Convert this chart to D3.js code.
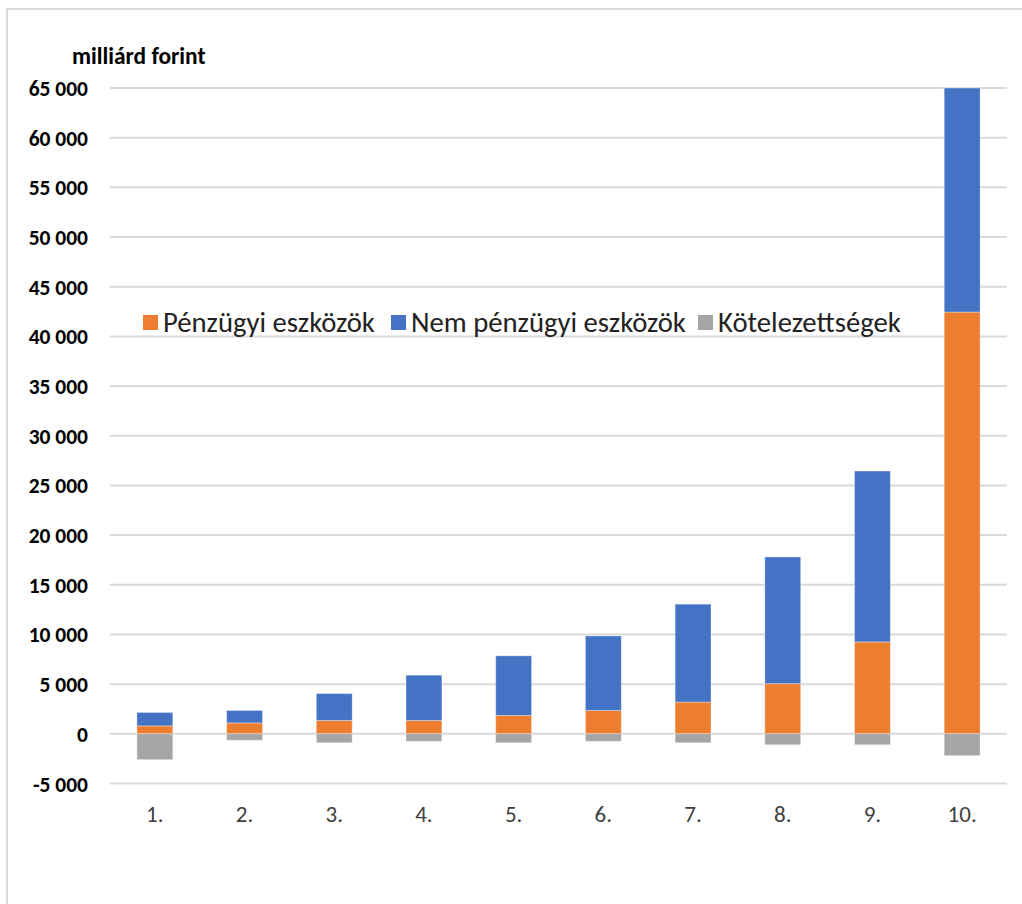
<!DOCTYPE html>
<html>
<head>
<meta charset="utf-8">
<script src="https://cdn.jsdelivr.net/npm/d3@7"></script>
<style>
  body { margin: 0; background: #fff; }
  svg text { font-family: Carlito, "Liberation Sans Narrow", "Liberation Sans", Arial, sans-serif; }
</style>
</head>
<body>
<svg id="chart" width="1022" height="904"></svg>
<script>
// categories and series (milliárd forint)
var categories = ['1.', '2.', '3.', '4.', '5.', '6.', '7.', '8.', '9.', '10.'];
var penzugyi = [800, 1100, 1350, 1350, 1850, 2350, 3200, 5050, 9250, 42450];
var nemPenzugyi = [1350, 1250, 2700, 4550, 6000, 7500, 9850, 12750, 17200, 22550];
var kotelezettsegek = [-2600, -650, -900, -750, -900, -750, -900, -1100, -1100, -2200];
var yTicks = [-5000, 0, 5000, 10000, 15000, 20000, 25000, 30000, 35000, 40000, 45000, 50000, 55000, 60000, 65000];
var seriesNames = ['Pénzügyi eszközök', 'Nem pénzügyi eszközök', 'Kötelezettségek'];
var colors = ['#ED7D31', '#4472C4', '#A5A5A5'];

var svg = d3.select('#chart');

// outer frame (cropped at right/bottom)
svg.append('path')
  .attr('d', 'M 7 904 L 7 9 L 1022 9')
  .attr('fill', 'none')
  .attr('stroke', '#d9d9d9')
  .attr('stroke-width', 2);

var x = d3.scaleBand().domain(categories).range([110, 1007]).paddingInner(0.6).paddingOuter(0.3);
var y = d3.scaleLinear().domain([-5000, 65000]).range([783.5, 88]);

var fmt = function(v) { return d3.format(',')(v).replace(/,/g, ' ').replace('−', '-'); };

// gridlines
svg.append('g').selectAll('line').data(yTicks).enter().append('line')
  .attr('x1', 110).attr('x2', 1007)
  .attr('y1', function(d) { return y(d); }).attr('y2', function(d) { return y(d); })
  .attr('stroke', '#d9d9d9').attr('stroke-width', 2);

// y axis labels
var yAxis = d3.axisLeft(y).tickValues(yTicks).tickSize(0).tickPadding(0).tickFormat(fmt);
var ya = svg.append('g').attr('transform', 'translate(88,0)').call(yAxis);
ya.select('.domain').remove();
ya.selectAll('text')
  .style('font-size', '21.5px').style('font-weight', 'bold').attr('fill', '#000').attr('dy', '0.35em');

svg.append('text').attr('x', 72).attr('y', 64).text('milliárd forint')
  .style('font-size', '23.4px').style('font-weight', 'bold');

// stacked bars
var bars = svg.append('g');
categories.forEach(function(c, i) {
  var segs = [
    { y0: 0, y1: penzugyi[i], color: colors[0] },
    { y0: penzugyi[i], y1: penzugyi[i] + nemPenzugyi[i], color: colors[1] },
    { y0: kotelezettsegek[i], y1: 0, color: colors[2] }
  ];
  segs.forEach(function(s) {
    bars.append('rect')
      .attr('x', x(c)).attr('width', x.bandwidth())
      .attr('y', y(s.y1)).attr('height', y(s.y0) - y(s.y1))
      .attr('fill', s.color)
      .attr('stroke', '#ffffff').attr('stroke-opacity', 0.35).attr('stroke-width', 1);
  });
});

// x axis labels
var xAxis = d3.axisBottom(x).tickSize(0).tickPadding(0);
var xa = svg.append('g').attr('transform', 'translate(0,806)').call(xAxis);
xa.select('.domain').remove();
xa.selectAll('text').style('font-size', '23px').attr('fill', '#404040').attr('dy', '0.71em');

// legend
var legendX = [143, 391, 698];
var lg = svg.append('g');
seriesNames.forEach(function(n, i) {
  lg.append('rect').attr('x', legendX[i]).attr('y', 315).attr('width', 15).attr('height', 15).attr('fill', colors[i]);
  lg.append('text').attr('x', legendX[i] + 20).attr('y', 332).text(n)
    .style('font-size', '28.7px').attr('fill', '#222');
});
</script>
</body>
</html>
